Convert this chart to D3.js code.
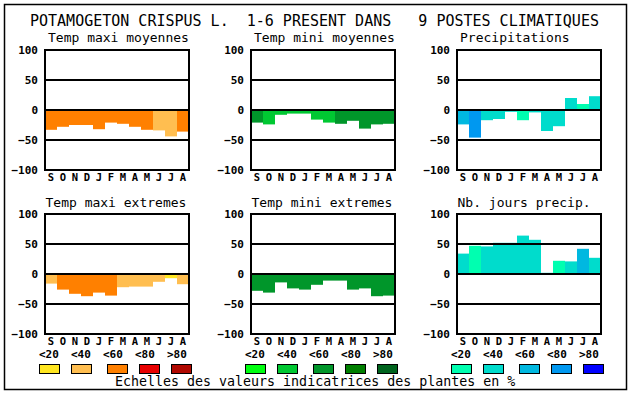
<!DOCTYPE html>
<html>
<head>
<meta charset="utf-8">
<script src="https://cdn.jsdelivr.net/npm/d3@7"></script>
<style>
  body { margin: 0; background: #fff; }
  svg { display: block; font-family: "DejaVu Sans Mono", monospace; }
  .axis text { font-family: "DejaVu Sans Mono", monospace; font-weight: bold; font-size: 11px; fill: #000; }
  .axis.months text { font-size: 10.5px; }
  .legend-label { font-weight: bold; font-size: 11px; }
</style>
</head>
<body>
<svg width="630" height="394"></svg>
<script>
"use strict";

const title = "POTAMOGETON CRISPUS L.  1-6 PRESENT DANS   9 POSTES CLIMATIQUES"
const footer = "Echelles des valeurs indicatrices des plantes en %"
const months = ["S", "O", "N", "D", "J", "F", "M", "A", "M", "J", "J", "A"]
const yTicks = [100, 50, 0, -50, -100]
const legendLabels = ["<20", "<40", "<60", "<80", ">80"]

// colour scales (one per column)
const warmColors = ["#ffe620", "#ffbe50", "#ff8000", "#e80000", "#b00800"]
const greenColors = ["#00ff10", "#00c832", "#00962a", "#007f00", "#00641e"]
const blueColors = ["#00ffb0", "#00dccc", "#00b8e0", "#0098f0", "#0000ff"]

// values per month, S..A
const tmaxMoy = [-33, -28, -25, -25, -32, -21, -23, -28, -33, -34, -44, -36]
const tminMoy = [-21, -24, -8, -6, -6, -16, -21, -23, -18, -31, -24, -23]
const precip = [-24, -46, -17, -15, -3, -17, -4, -35, -27, 20, 10, 23]
const tmaxExt = [-16, -26, -33, -37, -31, -36, -22, -21, -21, -13, -7, -17]
const tminExt = [-28, -31, -14, -24, -26, -18, -11, -11, -26, -24, -37, -36]
const joursPrecip = [34, 47, 46, 52, 52, 64, 57, 2, 22, 21, 42, 27]

// colour class of each bar (index into the column scale)
const tmaxMoyCls = [2, 2, 2, 2, 2, 2, 2, 2, 2, 1, 1, 2]
const tminMoyCls = [2, 1, 1, 1, 1, 1, 1, 2, 2, 2, 2, 2]
const precipCls = [2, 3, 1, 1, 1, 0, 1, 1, 1, 1, 0, 1]
const tmaxExtCls = [1, 2, 2, 2, 2, 2, 1, 1, 1, 1, 0, 1]
const tminExtCls = [2, 2, 2, 2, 2, 2, 2, 2, 2, 2, 2, 2]
const joursPrecipCls = [1, 0, 1, 1, 1, 1, 1, 1, 0, 1, 2, 1]

const panels = [
  {name: "Temp maxi moyennes", values: tmaxMoy, cls: tmaxMoyCls, colors: warmColors, col: 0, row: 0},
  {name: "Temp mini moyennes", values: tminMoy, cls: tminMoyCls, colors: greenColors, col: 1, row: 0},
  {name: "Precipitations", values: precip, cls: precipCls, colors: blueColors, col: 2, row: 0},
  {name: "Temp maxi extremes", values: tmaxExt, cls: tmaxExtCls, colors: warmColors, col: 0, row: 1},
  {name: "Temp mini extremes", values: tminExt, cls: tminExtCls, colors: greenColors, col: 1, row: 1},
  {name: "Nb. jours precip.", values: joursPrecip, cls: joursPrecipCls, colors: blueColors, col: 2, row: 1}
]

const svg = d3.select("svg")
const colLeft = [45, 251, 457]
const rowTop = [50, 214]
const plotW = 144
const plotH = 120

svg.append("rect")
    .attr("x", 4.5).attr("y", 4.5)
    .attr("width", 622).attr("height", 385)
    .attr("fill", "none").attr("stroke", "#000").attr("stroke-width", 1.5)

svg.append("text")
    .attr("x", 30).attr("y", 26)
    .attr("xml:space", "preserve")
    .style("white-space", "pre")
    .style("font-size", "15px")
    .text(title)

panels.forEach(p => {
  const left = colLeft[p.col]
  const top = rowTop[p.row]
  const g = svg.append("g").attr("transform", `translate(${left},${top})`)

  const x = d3.scaleBand().domain(d3.range(12)).range([0, plotW])
  const y = d3.scaleLinear().domain([-100, 100]).range([plotH, 0])

  g.append("text")
      .attr("x", p.row === 0 ? 3 : 0.5)
      .attr("y", p.row === 0 ? -8 : -7)
      .style("font-size", "13px")
      .text(p.name)

  g.selectAll(".bar")
      .data(p.values)
      .enter()
      .append("rect")
      .attr("class", "bar")
      .attr("x", (_, i) => x(i))
      .attr("width", x.bandwidth())
      .attr("y", v => Math.min(y(v), y(0)))
      .attr("height", v => Math.abs(y(v) - y(0)))
      .attr("fill", (_, i) => p.colors[p.cls[i]])

  g.selectAll(".grid")
      .data([50, 0, -50])
      .enter()
      .append("line")
      .attr("x1", 0).attr("x2", plotW)
      .attr("y1", d => y(d)).attr("y2", d => y(d))
      .attr("stroke", "#000").attr("stroke-width", 2)

  g.append("rect")
      .attr("width", plotW).attr("height", plotH)
      .attr("fill", "none").attr("stroke", "#000").attr("stroke-width", 2)

  const yAxis = g.append("g").attr("class", "axis")
      .call(d3.axisLeft(y).tickValues(yTicks).tickSize(0).tickPadding(7))
  yAxis.select(".domain").remove()
  yAxis.selectAll("text").attr("dy", "0.36em")

  const xAxis = g.append("g").attr("class", "axis months")
      .attr("transform", `translate(0,${plotH})`)
      .call(d3.axisBottom(x).tickFormat(i => months[i]).tickSize(0).tickPadding(4))
  xAxis.select(".domain").remove()
})

// legend: one colour scale per column
const boxOffsets = [0, 32, 68, 100, 132]
const legendGroups = [warmColors, greenColors, blueColors]
legendGroups.forEach((colors, gi) => {
  const gx = colLeft[gi] - 6
  const lg = svg.append("g").attr("transform", `translate(${gx},0)`)
  lg.selectAll("text")
      .data(legendLabels)
      .enter()
      .append("text")
      .attr("class", "legend-label")
      .attr("x", (_, i) => i * 32)
      .attr("y", 358)
      .text(d => d)
  lg.selectAll("rect")
      .data(colors)
      .enter()
      .append("rect")
      .attr("x", (_, i) => boxOffsets[i] + 0.5)
      .attr("y", 364.5)
      .attr("width", 20).attr("height", 9)
      .attr("fill", c => c)
      .attr("stroke", "#000")
})

svg.append("text")
    .attr("x", 115).attr("y", 386)
    .style("font-size", "13.3px")
    .text(footer)
</script>
</body>
</html>
